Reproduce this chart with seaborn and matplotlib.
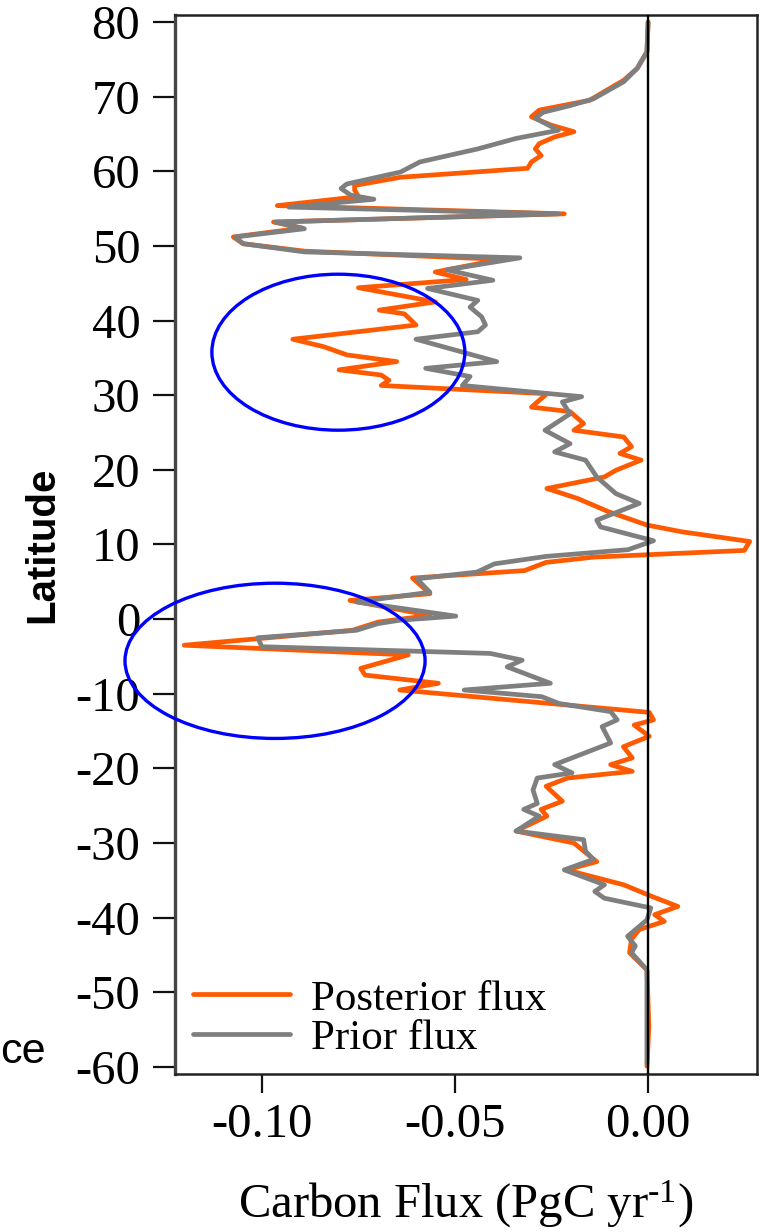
import numpy as np
import pandas as pd
import matplotlib
matplotlib.use("Agg")
import matplotlib.pyplot as plt
import seaborn as sns
from matplotlib.patches import Ellipse

# ---------------- data ----------------
posterior_lat = [80.0, 76.0, 73.8, 72.2, 69.5, 68.2, 67.3, 66.2, 65.3, 64.6, 63.7, 63.0, 62.1,
                 61.25, 60.4, 59.2, 58.1, 57.5, 56.6, 55.4, 54.3, 53.2, 52.4, 51.2, 50.3, 49.3,
                 48.2, 46.5, 45.5, 44.4, 42.5, 41.4, 40.9, 39.4, 37.5, 36.5, 35.4, 34.5, 33.4,
                 32.7, 32.0, 31.3, 30.2, 28.4, 27.8, 26.2, 25.3, 24.4, 23.1, 22.2, 21.3, 19.95,
                 19.05, 17.5, 16.15, 14.4, 12.6, 11.7, 10.4, 9.2, 8.3, 7.6, 6.5, 5.5, 3.4, 2.5,
                 0.5, -0.4, -1.5, -3.5, -4.8, -6.6, -7.5, -8.6, -9.5, -12.5, -13.5, -14.2, -15.7,
                 -17.1, -18.6, -19.5, -20.4, -21.3, -22.4, -24.4, -25.5, -26.4, -28.4, -30.0,
                 -32.5, -33.6, -35.6, -37.1, -38.5, -39.6, -40.5, -41.6, -42.9, -44.7, -47.0,
                 -54.6, -59.9]
posterior_flux = [0.0, -0.0003, -0.0028, -0.0063, -0.0152, -0.0282, -0.0302, -0.0252, -0.0192,
                  -0.0242, -0.0282, -0.0292, -0.0277, -0.0302, -0.0312, -0.0641, -0.0760, -0.0760,
                  -0.0750, -0.0960, -0.0217, -0.0970, -0.0895, -0.1074, -0.1049, -0.0890, -0.0382,
                  -0.0551, -0.0471, -0.0750, -0.0551, -0.0696, -0.0631, -0.0601, -0.0920, -0.0840,
                  -0.0780, -0.0651, -0.0800, -0.0691, -0.0671, -0.0691, -0.0262, -0.0302, -0.0202,
                  -0.0167, -0.0192, -0.0063, -0.0043, -0.0073, -0.0018, -0.0083, -0.0113, -0.0262,
                  -0.0182, -0.0103, -0.0003, 0.0087, 0.0263, 0.0249, -0.0142, -0.0264, -0.0320,
                  -0.0610, -0.0565, -0.0772, -0.0565, -0.0699, -0.0766, -0.1201, -0.0621, -0.0744,
                  -0.0733, -0.0543, -0.0643, 0.0003, 0.0014, -0.0036, 0.0003, -0.0064, -0.0041,
                  -0.0097, -0.0041, -0.0209, -0.0264, -0.0222, -0.0277, -0.0262, -0.0342, -0.0192,
                  -0.0133, -0.0212, -0.0063, 0.0007, 0.0077, 0.0017, 0.0042, -0.0023, -0.0043,
                  -0.0048, -0.0003, 0.0002, -0.0003]

prior_lat = [80.0, 76.0, 73.8, 72.0, 69.7, 68.8, 67.9, 67.1, 65.5, 64.4, 63.0, 61.25, 59.9, 58.3,
             57.7, 56.8, 56.25, 55.2, 54.3, 53.2, 52.3, 51.2, 50.3, 49.2, 48.4, 46.8, 45.4, 44.3,
             42.7, 41.8, 40.5, 39.4, 38.5, 37.5, 34.5, 33.6, 32.5, 31.3, 29.8, 29.1, 27.5, 25.3,
             23.5, 22.4, 21.3, 19.05, 16.8, 15.5, 13.25, 12.35, 10.5, 9.3, 8.4, 7.4, 6.3, 5.4,
             3.6, 2.3, 0.4, -0.15, -0.6, -1.5, -2.5, -3.7, -4.6, -5.5, -6.4, -8.6, -9.5, -10.4,
             -11.3, -12.4, -13.5, -14.4, -16.6, -19.5, -20.6, -21.3, -22.9, -24.7, -25.5, -26.4,
             -28.4, -29.55, -31.1, -32.2, -33.6, -35.6, -36.5, -37.4, -38.7, -40.3, -42.5, -43.8,
             -44.7, -47.0, -59.5]
prior_flux = [0.0, -0.0003, -0.0028, -0.0063, -0.0142, -0.0202, -0.0272, -0.0292, -0.0232,
              -0.0342, -0.0441, -0.0591, -0.0641, -0.0780, -0.0795, -0.0770, -0.0710, -0.0930,
              -0.0232, -0.0965, -0.0890, -0.1069, -0.1049, -0.0890, -0.0332, -0.0521, -0.0402,
              -0.0571, -0.0441, -0.0461, -0.0431, -0.0421, -0.0441, -0.0601, -0.0392, -0.0576,
              -0.0461, -0.0481, -0.0172, -0.0222, -0.0202, -0.0267, -0.0202, -0.0242, -0.0162,
              -0.0133, -0.0083, -0.0023, -0.0133, -0.0123, 0.0014, -0.0052, -0.0264, -0.0398,
              -0.0443, -0.0599, -0.0565, -0.0755, -0.0498, -0.0643, -0.0699, -0.0755, -0.1011,
              -0.1000, -0.0409, -0.0326, -0.0365, -0.0253, -0.0476, -0.0275, -0.0231, -0.0097,
              -0.0080, -0.0119, -0.0097, -0.0242, -0.0197, -0.0287, -0.0298, -0.0287, -0.0322,
              -0.0282, -0.0342, -0.0167, -0.0162, -0.0142, -0.0217, -0.0113, -0.0138, -0.0113,
              0.0007, -0.0003, -0.0053, -0.0033, -0.0043, -0.0003, -0.0003]

series_labels = ["Posterior flux", "Prior flux"]
series_colors = ["#FF5A00", "#7F7F7F"]

yticks = [80, 70, 60, 50, 40, 30, 20, 10, 0, -10, -20, -30, -40, -50, -60]
xticks = [-0.10, -0.05, 0.00]
xtick_labels = ["-0.10", "-0.05", "0.00"]

ellipse_centers = [(-0.0802, 35.76), (-0.0966, -5.59)]
ellipse_sizes = [(0.0655, 20.9), (0.0777, 20.8)]

# ---------------- style ----------------
sns.set_style("ticks")
plt.rcParams["font.family"] = ["Liberation Serif", "DejaVu Serif"]
plt.rcParams["mathtext.fontset"] = "custom"
plt.rcParams["mathtext.rm"] = "Liberation Serif"
plt.rcParams["mathtext.it"] = "Liberation Serif:italic"
for key in ["text.color", "axes.labelcolor", "xtick.color", "ytick.color"]:
    plt.rcParams[key] = "black"

W, H = 774, 1232
fig = plt.figure(figsize=(W / 100, H / 100), dpi=100)
ax_l, ax_r, ax_t, ax_b = 175, 757, 15, 1074
ax = fig.add_axes([ax_l / W, 1 - ax_b / H, (ax_r - ax_l) / W, (ax_b - ax_t) / H])

df_post = pd.DataFrame({"flux": posterior_flux, "lat": posterior_lat})
df_prior = pd.DataFrame({"flux": prior_flux, "lat": prior_lat})

sns.lineplot(data=df_post, x="flux", y="lat", sort=False, estimator=None,
             color=series_colors[0], linewidth=3.4, ax=ax, label=series_labels[0], zorder=2)
sns.lineplot(data=df_prior, x="flux", y="lat", sort=False, estimator=None,
             color=series_colors[1], linewidth=3.4, ax=ax, label=series_labels[1], zorder=3)

ax.axvline(0, color="black", lw=1.7, zorder=4)

for (cx, cy), (ew, eh) in zip(ellipse_centers, ellipse_sizes):
    e = Ellipse((cx, cy), ew, eh, fill=False, edgecolor="#0000FF", lw=2.4,
                clip_on=False, zorder=5)
    ax.add_patch(e)

ax.set_xlim(-0.1225, 0.0282)
ax.set_ylim(-60.95, 80.94)
ax.set_yticks(yticks)
ax.set_yticklabels([str(v) for v in yticks])
ax.set_xticks(xticks)
ax.set_xticklabels(xtick_labels)

for s in ax.spines.values():
    s.set_linewidth(1.8)
    s.set_color("#222222")
ax.spines["left"].set_linewidth(2.4)
ax.spines["left"].set_color("#444444")

ax.tick_params(axis="y", direction="out", length=16, width=1.6, pad=9,
               labelsize=35, color="#111111", labelcolor="black")
ax.tick_params(axis="x", direction="out", length=14, width=1.6, pad=7,
               labelsize=35, color="#111111", labelcolor="black")

ax.set_ylabel("Latitude", fontfamily="Liberation Sans", fontweight="bold",
              fontsize=29, va="center", color="black")
ax.yaxis.set_label_coords((42 - ax_l) / (ax_r - ax_l), 0.5)

ax.set_xlabel("Carbon Flux (PgC yr$^{\\mathregular{\u20101}}$)", fontsize=35,
              va="baseline", color="black")
ax.xaxis.set_label_coords(0.5, (ax_b - 1218) / (ax_b - ax_t))

leg = ax.legend(loc="center left",
                bbox_to_anchor=(18 / (ax_r - ax_l), (ax_b - 1018.5) / (ax_b - ax_t)),
                frameon=False, fontsize=31, handlelength=2.25, handletextpad=0.5,
                labelspacing=0.0, borderpad=0.0, borderaxespad=0.0)
for line in leg.get_lines():
    line.set_linewidth(3.4)
for t in leg.get_texts():
    t.set_color("black")

fig.text(0 / W, 1 - 1063 / H, "ce", fontfamily="Liberation Sans", fontsize=31,
         va="baseline", ha="left", color="black")

fig.savefig("out.png", dpi=100)
